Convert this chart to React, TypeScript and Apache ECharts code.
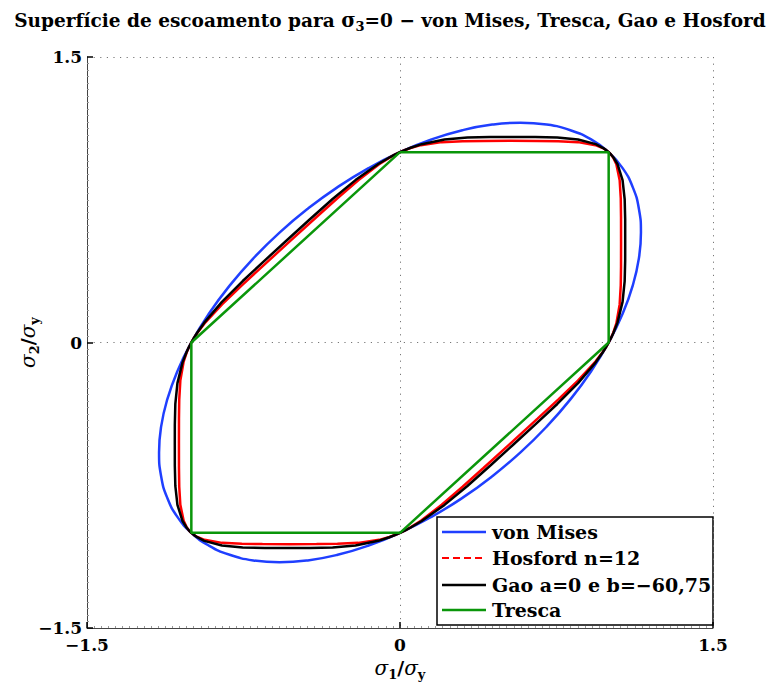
import React, { useEffect, useRef } from "react";
import * as echarts from "echarts";

// ---- Data (σ1/σy, σ2/σy) ----
const vonMises: number[][] = [
  [1, 1], [1.0668, 0.9161], [1.1153, 0.8165], [1.1448, 0.7029], [1.1547, 0.5774], [1.1448, 0.4419],
  [1.1153, 0.2989], [1.0668, 0.1507], [1, 0], [0.9161, -0.1507], [0.8165, -0.2989], [0.7029, -0.4419],
  [0.5774, -0.5774], [0.4419, -0.7029], [0.2989, -0.8165], [0.1507, -0.9161], [0, -1], [-0.1507, -1.0668],
  [-0.2989, -1.1153], [-0.4419, -1.1448], [-0.5774, -1.1547], [-0.7029, -1.1448], [-0.8165, -1.1153],
  [-0.9161, -1.0668], [-1, -1], [-1.0668, -0.9161], [-1.1153, -0.8165], [-1.1448, -0.7029], [-1.1547, -0.5774],
  [-1.1448, -0.4419], [-1.1153, -0.2989], [-1.0668, -0.1507], [-1, 0], [-0.9161, 0.1507], [-0.8165, 0.2989],
  [-0.7029, 0.4419], [-0.5774, 0.5774], [-0.4419, 0.7029], [-0.2989, 0.8165], [-0.1507, 0.9161], [0, 1],
  [0.1507, 1.0668], [0.2989, 1.1153], [0.4419, 1.1448], [0.5774, 1.1547], [0.7029, 1.1448], [0.8165, 1.1153],
  [0.9161, 1.0668], [1, 1],
];

const hosford: number[][] = [
  [0, -1], [0.025, -0.9866], [0.05, -0.9716], [0.1, -0.9368], [0.2, -0.8527], [0.3, -0.7579], [0.4, -0.6592],
  [0.5297, -0.5297], [0.6592, -0.4], [0.7579, -0.3], [0.8527, -0.2], [0.9368, -0.1], [0.9716, -0.05], [0.9866, -0.025], [1, 0],
  [1.0116, 0.025], [1.0216, 0.05], [1.0368, 0.1], [1.0527, 0.2], [1.0579, 0.3], [1.0592, 0.4], [1.0594, 0.5297],
  [1.0592, 0.6592], [1.0579, 0.7579], [1.0527, 0.8527], [1.0368, 0.9368], [1.0216, 0.9716], [1.0116, 0.9866], [1, 1],
  [0.9866, 1.0116], [0.9716, 1.0216], [0.9368, 1.0368], [0.8527, 1.0527], [0.7579, 1.0579], [0.6592, 1.0592], [0.5297, 1.0594],
  [0.4, 1.0592], [0.3, 1.0579], [0.2, 1.0527], [0.1, 1.0368], [0.05, 1.0216], [0.025, 1.0116], [0, 1],
  [-0.025, 0.9866], [-0.05, 0.9716], [-0.1, 0.9368], [-0.2, 0.8527], [-0.3, 0.7579], [-0.4, 0.6592], [-0.5297, 0.5297],
  [-0.6592, 0.4], [-0.7579, 0.3], [-0.8527, 0.2], [-0.9368, 0.1], [-0.9716, 0.05], [-0.9866, 0.025], [-1, 0],
  [-1.0116, -0.025], [-1.0216, -0.05], [-1.0368, -0.1], [-1.0527, -0.2], [-1.0579, -0.3], [-1.0592, -0.4], [-1.0594, -0.5297],
  [-1.0592, -0.6592], [-1.0579, -0.7579], [-1.0527, -0.8527], [-1.0368, -0.9368], [-1.0216, -0.9716], [-1.0116, -0.9866], [-1, -1],
  [-0.9866, -1.0116], [-0.9716, -1.0216], [-0.9368, -1.0368], [-0.8527, -1.0527], [-0.7579, -1.0579], [-0.6592, -1.0592], [-0.5297, -1.0594],
  [-0.4, -1.0592], [-0.3, -1.0579], [-0.2, -1.0527], [-0.1, -1.0368], [-0.05, -1.0216], [-0.025, -1.0116], [0, -1],
];

const gao: number[][] = [
  [0, -1], [0.0253, -0.9868], [0.0511, -0.972], [0.1042, -0.9379], [0.2133, -0.8533], [0.323, -0.7537], [0.4317, -0.6474],
  [0.5396, -0.5396], [0.6475, -0.4316], [0.7537, -0.323], [0.8533, -0.2133], [0.9379, -0.1042], [0.9719, -0.0512], [0.9868, -0.0253], [1, 0],
  [1.0121, 0.0253], [1.0231, 0.0512], [1.0421, 0.1042], [1.0666, 0.2133], [1.0767, 0.323], [1.0791, 0.4316], [1.0792, 0.5396],
  [1.0791, 0.6474], [1.0767, 0.7537], [1.0666, 0.8533], [1.0421, 0.9379], [1.0231, 0.972], [1.0121, 0.9868], [1, 1],
  [0.9868, 1.0121], [0.972, 1.0231], [0.9379, 1.0421], [0.8533, 1.0666], [0.7537, 1.0767], [0.6474, 1.0791], [0.5396, 1.0792],
  [0.4316, 1.0791], [0.323, 1.0767], [0.2133, 1.0666], [0.1042, 1.0421], [0.0512, 1.0231], [0.0253, 1.0121], [0, 1],
  [-0.0253, 0.9868], [-0.0511, 0.972], [-0.1042, 0.9379], [-0.2133, 0.8533], [-0.323, 0.7537], [-0.4317, 0.6474], [-0.5396, 0.5396],
  [-0.6475, 0.4316], [-0.7537, 0.323], [-0.8533, 0.2133], [-0.9379, 0.1042], [-0.9719, 0.0512], [-0.9868, 0.0253], [-1, 0],
  [-1.0121, -0.0253], [-1.0231, -0.0512], [-1.0421, -0.1042], [-1.0666, -0.2133], [-1.0767, -0.323], [-1.0791, -0.4316], [-1.0792, -0.5396],
  [-1.0791, -0.6474], [-1.0767, -0.7537], [-1.0666, -0.8533], [-1.0421, -0.9379], [-1.0231, -0.972], [-1.0121, -0.9868], [-1, -1],
  [-0.9868, -1.0121], [-0.972, -1.0231], [-0.9379, -1.0421], [-0.8533, -1.0666], [-0.7537, -1.0767], [-0.6474, -1.0791], [-0.5396, -1.0792],
  [-0.4316, -1.0791], [-0.323, -1.0767], [-0.2133, -1.0666], [-0.1042, -1.0421], [-0.0512, -1.0231], [-0.0253, -1.0121], [0, -1],
];

const tresca: number[][] = [[0, 1], [1, 1], [1, 0], [0, -1], [-1, -1], [-1, 0], [0, 1]];

const seriesNames = ["von Mises", "Hosford n=12", "Gao a=0 e b=\u221260,75", "Tresca"];
const seriesColors = ["#1f3fff", "#ff0000", "#000000", "#0a960a"];
const seriesData = [vonMises, hosford, gao, tresca];
const seriesSmooth = [0.5, false, false, false];

const axisMin = -1.5;
const axisMax = 1.5;
const axisStep = 1.5;

const FONT = "DejaVu Serif";

const fmt = (v: number) => (v < 0 ? "\u2212" : "") + String(Math.abs(v));

export default function App() {
  const ref = useRef<HTMLDivElement>(null);
  useEffect(() => {
    document.body.style.margin = "0";
    if (!ref.current) return;
    const chart = echarts.init(ref.current, undefined, { renderer: "svg" });

    const G = { left: 87, top: 57, width: 626, height: 571 };
    const lx = 437, ly = 517, lw = 276, lh = 108;
    const rows = [532, 558, 585, 610];

    const legendEls: any[] = [
      {
        type: "rect",
        shape: { x: lx, y: ly, width: lw, height: lh },
        style: { fill: "#fff", stroke: "#000", lineWidth: 1.5 },
      },
    ];
    seriesNames.forEach((n, i) => {
      legendEls.push({
        type: "line",
        shape: { x1: lx + 5, y1: rows[i], x2: lx + 49, y2: rows[i] },
        style: {
          stroke: seriesColors[i],
          lineWidth: i === 1 ? 2 : 2.5,
          lineDash: i === 1 ? [7, 4] : null,
        },
      });
      legendEls.push({
        type: "text",
        x: lx + 55,
        y: rows[i],
        style: {
          text: n,
          font: `bold 19px "${FONT}"`,
          fill: "#000",
          verticalAlign: "middle",
          align: "left",
        },
      });
    });

    const sigRich = {
      n: { fontFamily: FONT, fontSize: 19, fontWeight: "bold", color: "#000", lineHeight: 26 },
      s: { fontFamily: FONT, fontSize: 20, fontStyle: "italic", color: "#000", lineHeight: 26 },
      sub: { fontFamily: FONT, fontSize: 13, fontWeight: "bold", color: "#000", lineHeight: 26, verticalAlign: "bottom", padding: [9, 0, 0, 0] },
    };

    const axisCommon = {
      type: "value",
      min: axisMin,
      max: axisMax,
      interval: axisStep,
      axisLine: { show: true, onZero: false, lineStyle: { color: "#444", width: 1 } },
      axisTick: { show: true, inside: true, length: 6, lineStyle: { color: "#000", width: 1.5 } },
      minorTick: { show: true, splitNumber: 44, length: 2, lineStyle: { color: "#999", width: 1 } },
      splitLine: { show: true, lineStyle: { color: "#777", width: 1, type: [1.2, 5.4] } },
      axisLabel: {
        formatter: fmt,
        fontFamily: FONT,
        fontWeight: "bold",
        fontSize: 17,
        color: "#000",
      },
      nameLocation: "middle",
    };

    chart.setOption({
      animation: false,
      backgroundColor: "#fff",
      title: {
        text: "{n|Superfície de escoamento para }{s|σ}{sub|3}{n|=0 \u2212 von Mises, Tresca, Gao e Hosford}",
        left: "center",
        top: 2,
        textStyle: {
          fontFamily: FONT,
          fontSize: 18.5,
          rich: {
            n: { fontFamily: FONT, fontSize: 18.5, fontWeight: "bold", color: "#000", lineHeight: 26 },
            s: { fontFamily: FONT, fontSize: 19.5, color: "#000", lineHeight: 26 },
            sub: { fontFamily: FONT, fontSize: 13, fontWeight: "bold", color: "#000", lineHeight: 26, verticalAlign: "bottom", padding: [9, 0, 0, 0] },
          },
        },
      },
      grid: { ...G, containLabel: false, outerBoundsMode: "none" },
      xAxis: {
        ...axisCommon,
        axisLabel: { ...axisCommon.axisLabel, margin: 8 },
        name: "{s|σ}{sub|1}{n|/}{s|σ}{sub|y}",
        nameGap: 21,
        nameTextStyle: { rich: sigRich },
      },
      yAxis: {
        ...axisCommon,
        axisLabel: { ...axisCommon.axisLabel, margin: 5 },
        name: "{s|σ}{sub|2}{n|/}{s|σ}{sub|y}",
        nameGap: 46,
        nameMoveOverlap: false,
        nameRotate: 90,
        nameTextStyle: { rich: sigRich },
      },
      series: seriesData.map((d, i) => ({
        type: "line",
        name: seriesNames[i],
        data: d,
        showSymbol: false,
        symbol: "none",
        smooth: seriesSmooth[i],
        clip: false,
        lineStyle: { color: seriesColors[i], width: 2.5 },
        z: 2 + i,
      })),
      graphic: [{ type: "group", z: 100, children: legendEls }],
    });

    return () => chart.dispose();
  }, []);
  return <div ref={ref} style={{ width: 780, height: 682 }} />;
}
